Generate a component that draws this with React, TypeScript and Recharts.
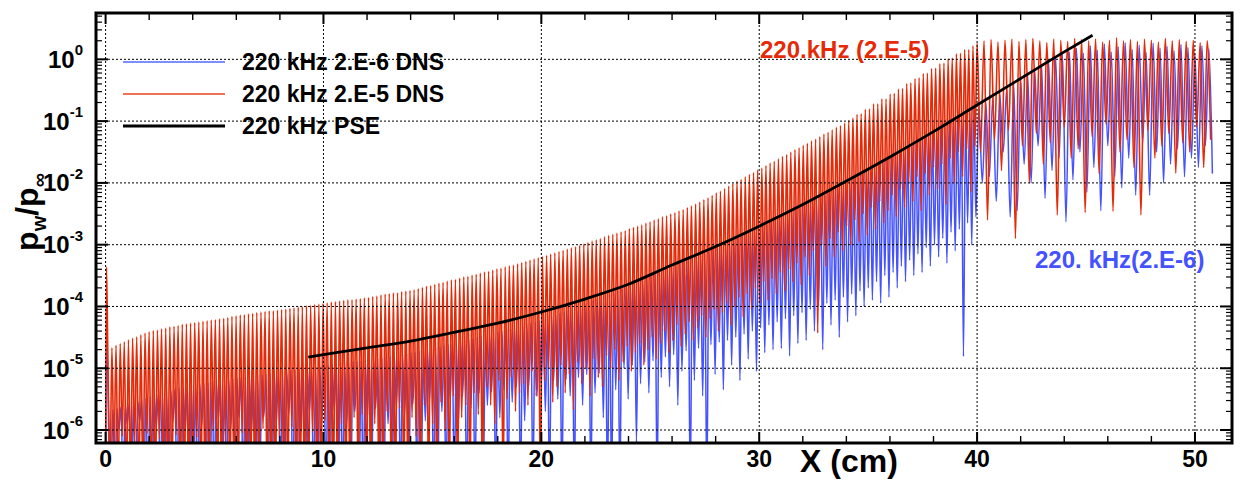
import React from 'react'
import { LineChart, Line, XAxis, YAxis, Legend, ReferenceLine } from 'recharts'

// x in cm, y stored as log10(p_w / p_inf) in hundredths of a decade
const xTicks = [0, 10, 20, 30, 40, 50]
const xMinorTicks = [2, 4, 6, 8, 12, 14, 16, 18, 22, 24, 26, 28, 32, 34, 36, 38, 42, 44, 46, 48]
const yTicks = [-6, -5, -4, -3, -2, -1, 0]
const yDecades = [-7, -6, -5, -4, -3, -2, -1, 0]
const yMinorMultiples = [2, 3, 4, 5, 6, 7, 8, 9]

const seriesNames = ['220 kHz 2.E-6 DNS', '220 kHz 2.E-5 DNS', '220 kHz PSE']

// oscillation grid: ~0.19 cm period up to 40 cm, ~0.32 cm after
const redGrid = { startA: 0.1, stepA: 0.19, startB: 40.0, stepB: 0.32 }
const blueGrid = { startA: 0.14, stepA: 0.19, startB: 40.08, stepB: 0.32 }

// inlet transient near x = 0
const redInletX = [0.0, 0.04]
const redInletY = [-700, -336]
const blueInletX = [0.0, 0.05]
const blueInletY = [-700, -455]

// 2.E-5 DNS (red), peaks and troughs of each wave, 0 - 40 cm
const redPeaksA = [
  -470, -467, -463, -460, -457, -454, -451, -449, -446, -443,
  -441, -439, -438, -436, -435, -433, -432, -431, -429, -428,
  -427, -426, -425, -424, -423, -422, -421, -420, -419, -418,
  -416, -415, -414, -413, -412, -411, -410, -409, -408, -407,
  -407, -406, -405, -404, -403, -402, -401, -400, -399, -398,
  -397, -396, -395, -394, -393, -392, -391, -390, -389, -389,
  -388, -387, -386, -385, -384, -383, -381, -380, -379, -378,
  -378, -376, -375, -374, -373, -371, -369, -367, -366, -364,
  -362, -361, -359, -357, -356, -354, -352, -351, -349, -348,
  -346, -344, -343, -341, -339, -338, -336, -334, -333, -331,
  -329, -327, -325, -323, -321, -319, -317, -315, -313, -311,
  -309, -307, -305, -303, -301, -299, -296, -294, -292, -290,
  -287, -285, -283, -281, -279, -277, -274, -272, -270, -268,
  -265, -263, -260, -258, -255, -253, -250, -248, -245, -243,
  -240, -237, -234, -231, -227, -224, -220, -216, -213, -209,
  -205, -201, -197, -194, -190, -186, -183, -179, -176, -172,
  -168, -165, -161, -157, -154, -150, -146, -143, -139, -136,
  -132, -129, -125, -121, -118, -114, -110, -107, -103, -99,
  -95, -89, -88, -81, -80, -72, -72, -64, -64, -56,
  -55, -48, -47, -39, -38, -31, -30, -23, -22, -15,
  -14, -7, -6, 1, 2, 9, 10, 16, 16, 22,
]
const redTroughsA = [
  -700, -640, -700, -610, -700, -700, -620, -700, -700, -605,
  -700, -700, -615, -700, -700, -700, -608, -700, -700, -700,
  -700, -612, -700, -700, -700, -600, -700, -700, -618, -700,
  -700, -700, -605, -700, -700, -700, -700, -598, -700, -700,
  -700, -610, -700, -700, -595, -700, -700, -700, -700, -602,
  -700, -700, -585, -700, -700, -700, -590, -700, -700, -580,
  -700, -575, -700, -700, -590, -700, -700, -570, -700, -700,
  -565, -700, -700, -580, -610, -700, -560, -700, -590, -700,
  -555, -600, -700, -545, -700, -580, -560, -700, -540, -575,
  -700, -530, -560, -590, -520, -700, -550, -515, -570, -540,
  -525, -560, -505, -545, -700, -520, -500, -555, -530, -495,
  -540, -510, -567, -490, -525, -500, -545, -485, -515, -530,
  -480, -500, -470, -520, -490, -465, -505, -475, -460, -495,
  -470, -450, -485, -460, -440, -475, -455, -430, -465, -445,
  -425, -455, -435, -415, -450, -420, -405, -440, -410, -395,
  -430, -400, -385, -417, -380, -405, -370, -395, -360, -390,
  -355, -380, -345, -375, -340, -360, -330, -365, -320, -350,
  -310, -443, -300, -335, -290, -320, -280, -310, -270, -300,
  -260, -295, -250, -285, -240, -275, -230, -265, -245, -220,
  -255, -210, -240, -200, -230, -190, -245, -185, -220, -175,
  -210, -170, -235, -160, -200, -150, -190, -145, -215, -140,
]
// 40 - 51 cm
const redPeaksB = [
  26, 30, 32, 28, 31, 33, 29, 32, 34, 30,
  27, 33, 31, 29, 34, 32, 30, 33, 28, 31,
  35, 30, 32, 29, 33, 31, 28, 34, 30, 32,
  29, 31, 27, 30,
]
const redTroughsB = [
  -150, -260, -130, -180, -115, -290, -140, -200, -120, -170,
  -135, -252, -110, -160, -145, -248, -125, -185, -105, -246,
  -150, -130, -175, -252, -115, -160, -140, -120, -184, -135,
  -150, -110, -175, -130,
]

// 2.E-6 DNS (blue)
const bluePeaksA = [
  -570, -567, -565, -562, -559, -556, -554, -552, -550, -548,
  -546, -544, -542, -540, -538, -536, -534, -532, -531, -529,
  -528, -526, -525, -524, -523, -522, -521, -520, -519, -518,
  -517, -516, -515, -514, -513, -512, -511, -510, -509, -508,
  -508, -507, -506, -505, -504, -503, -502, -501, -500, -499,
  -498, -497, -496, -495, -494, -493, -492, -491, -490, -489,
  -489, -488, -487, -486, -485, -484, -483, -482, -481, -480,
  -479, -478, -476, -475, -474, -472, -471, -469, -468, -466,
  -465, -463, -462, -460, -458, -457, -455, -453, -452, -450,
  -448, -446, -445, -443, -441, -440, -438, -436, -434, -433,
  -431, -429, -427, -425, -423, -421, -419, -416, -414, -411,
  -409, -406, -404, -401, -398, -395, -393, -390, -388, -385,
  -382, -380, -377, -374, -372, -369, -366, -363, -360, -358,
  -355, -352, -349, -346, -343, -340, -337, -334, -331, -328,
  -326, -323, -320, -317, -314, -311, -308, -305, -302, -298,
  -295, -292, -289, -285, -282, -279, -276, -273, -270, -267,
  -263, -260, -257, -253, -250, -247, -244, -241, -237, -234,
  -230, -227, -223, -220, -216, -212, -209, -205, -202, -198,
  -194, -190, -186, -182, -178, -175, -171, -167, -163, -159,
  -156, -152, -148, -144, -141, -137, -133, -129, -125, -121,
  -118, -114, -110, -106, -102, -98, -94, -90, -86, -81,
]
const blueTroughsA = [
  -700, -700, -600, -700, -590, -700, -700, -585, -700, -700,
  -700, -595, -700, -700, -700, -588, -700, -700, -600, -700,
  -700, -700, -592, -700, -700, -700, -582, -700, -700, -598,
  -700, -580, -700, -700, -605, -700, -700, -578, -700, -700,
  -590, -700, -700, -575, -700, -700, -600, -700, -572, -700,
  -700, -585, -700, -700, -568, -700, -700, -595, -700, -570,
  -700, -700, -580, -700, -565, -700, -700, -590, -700, -562,
  -700, -575, -700, -558, -700, -700, -585, -555, -700, -700,
  -570, -700, -550, -700, -590, -545, -700, -565, -700, -540,
  -700, -560, -538, -700, -580, -535, -700, -555, -530, -700,
  -585, -528, -700, -545, -525, -570, -700, -520, -550, -700,
  -518, -545, -700, -515, -560, -510, -700, -540, -508, -580,
  -700, -700, -535, -700, -500, -550, -495, -620, -525, -490,
  -540, -488, -700, -515, -482, -530, -478, -560, -505, -472,
  -700, -520, -468, -545, -700, -462, -510, -458, -535, -455,
  -495, -450, -520, -445, -485, -440, -505, -435, -475, -430,
  -470, -425, -468, -420, -480, -415, -460, -410, -455, -405,
  -440, -400, -470, -395, -430, -390, -450, -385, -425, -380,
  -415, -375, -400, -370, -390, -360, -395, -350, -385, -345,
  -370, -335, -360, -325, -350, -315, -345, -305, -335, -300,
  -320, -290, -330, -280, -310, -275, -481, -265, -300, -255,
]
const bluePeaksB = [
  -77, -70, -63, -56, -48, -40, -32, -24, -16, -8,
  -2, 4, 8, 12, 18, 10, 22, 15, 25, 12,
  20, 27, 16, 23, 11, 26, 18, 21, 14, 24,
  19, 9, 22, 17,
]
const blueTroughsB = [
  -200, -190, -230, -150, -255, -245, -170, -200, -140, -225,
  -180, -160, -263, -195, -150, -215, -175, -245, -140, -190,
  -208, -160, -220, -135, -220, -150, -200, -170, -145, -190,
  -160, -175, -140, -185,
]

// PSE (black)
const pseX = [9.3, 10, 12, 14, 16, 18, 20, 22, 24, 26, 28, 30, 32, 34, 36, 38, 40, 42, 44, 45.3]
const pseY = [-4.82, -4.78, -4.67, -4.56, -4.42, -4.27, -4.09, -3.88, -3.64, -3.33, -3.03, -2.7, -2.35, -1.97, -1.58, -1.17, -0.74, -0.31, 0.12, 0.39]

const X_DOMAIN: [number, number] = [-0.44, 51.7]
const Y_DOMAIN: [number, number] = [-6.21, 0.75]
// plot box in pixels, follows from the chart margins and axis sizes below
const PLOT = { left: 96, right: 1232, top: 13, bottom: 443 }

const waves = (start: number, step: number, peaks: number[], troughs: number[]) =>
  peaks.flatMap((p, i) => [
    { x: start + i * step, y: p / 100 },
    { x: start + (i + 0.5) * step, y: troughs[i] / 100 },
  ])

const redData = [
  ...redInletX.map((x, i) => ({ x, y: redInletY[i] / 100 })),
  ...waves(redGrid.startA, redGrid.stepA, redPeaksA, redTroughsA),
  ...waves(redGrid.startB, redGrid.stepB, redPeaksB, redTroughsB),
]
const blueData = [
  ...blueInletX.map((x, i) => ({ x, y: blueInletY[i] / 100 })),
  ...waves(blueGrid.startA, blueGrid.stepA, bluePeaksA, blueTroughsA),
  ...waves(blueGrid.startB, blueGrid.stepB, bluePeaksB, blueTroughsB),
]
const pseData = pseX.map((x, i) => ({ x, y: pseY[i] }))

const yMinorTicks = yDecades
  .flatMap((d) => yMinorMultiples.map((k) => d + Math.log10(k)))
  .filter((v) => v > Y_DOMAIN[0] && v < Y_DOMAIN[1])

// axis value -> pixel, same linear mapping as the chart axes (for the frame ticks)
const px = (v: number) => PLOT.left + ((v - X_DOMAIN[0]) / (X_DOMAIN[1] - X_DOMAIN[0])) * (PLOT.right - PLOT.left)
const py = (v: number) => PLOT.bottom - ((v - Y_DOMAIN[0]) / (Y_DOMAIN[1] - Y_DOMAIN[0])) * (PLOT.bottom - PLOT.top)

const FONT = '"Liberation Sans", Arial, sans-serif'
const BLUE = '#4452ff'
const RED = '#e62a08'
const legendStyles = [
  { color: '#7f8eff', width: 2 },
  { color: '#e8431f', width: 1.5 },
  { color: '#000000', width: 3 },
]

const YTick = (props: any) => {
  const { x, y, payload } = props
  return (
    <text x={x} y={y} textAnchor="end" dominantBaseline="central" fontSize={24} fontWeight="bold" fill="#000">
      10
      <tspan dy={-10} fontSize={15}>
        {payload.value}
      </tspan>
    </text>
  )
}

const LegendBox = () => (
  <div style={{ fontFamily: FONT, fontWeight: 'bold', fontSize: 23, color: '#000' }}>
    {seriesNames.map((name, i) => (
      <div key={name} style={{ height: 32, display: 'flex', alignItems: 'center' }}>
        <svg width={115} height={32} style={{ display: 'block' }}>
          <line x1={13} x2={115} y1={16} y2={16} stroke={legendStyles[i].color} strokeWidth={legendStyles[i].width} />
        </svg>
        <span style={{ marginLeft: 17, whiteSpace: 'nowrap' }}>{name}</span>
      </div>
    ))}
  </div>
)

// frame with inward ticks on all four sides, drawn over the plot
const Frame = () => {
  const xt = [
    ...xTicks.map((v) => ({ v, len: 11, w: 2 })),
    ...xMinorTicks.map((v) => ({ v, len: 7, w: 1.4 })),
  ]
  const yt = [
    ...yTicks.map((v) => ({ v, len: 12, w: 2 })),
    ...yMinorTicks.map((v) => ({ v, len: 6, w: 1.2 })),
  ]
  return (
    <svg width={1242} height={487} style={{ position: 'absolute', left: 0, top: 0, pointerEvents: 'none' }}>
      {xt.map(({ v, len, w }) => (
        <g key={'x' + v} stroke="#000" strokeWidth={w}>
          <line x1={px(v)} x2={px(v)} y1={PLOT.bottom} y2={PLOT.bottom - len} />
          <line x1={px(v)} x2={px(v)} y1={PLOT.top} y2={PLOT.top + len} />
        </g>
      ))}
      {yt.map(({ v, len, w }) => (
        <g key={'y' + v} stroke="#000" strokeWidth={w}>
          <line x1={PLOT.left} x2={PLOT.left + len} y1={py(v)} y2={py(v)} />
          <line x1={PLOT.right} x2={PLOT.right - len} y1={py(v)} y2={py(v)} />
        </g>
      ))}
      <rect
        x={PLOT.left}
        y={PLOT.top}
        width={PLOT.right - PLOT.left}
        height={PLOT.bottom - PLOT.top}
        fill="none"
        stroke="#000"
        strokeWidth={3}
      />
    </svg>
  )
}

const gridLine = { stroke: '#000', strokeWidth: 1, strokeDasharray: '2 2' }

export default function App() {
  const ids = { xAxisId: 'main', yAxisId: 'main' }
  return (
    <div
      style={{
        position: 'absolute',
        left: 0,
        top: 0,
        width: 1242,
        height: 487,
        background: '#fff',
        fontFamily: FONT,
      }}
    >
      <LineChart width={1242} height={487} margin={{ top: 13, right: 10, bottom: 10, left: 10 }}>
        <XAxis
          xAxisId="main"
          type="number"
          dataKey="x"
          domain={X_DOMAIN}
          allowDataOverflow
          ticks={xTicks}
          interval={0}
          height={34}
          tickLine={false}
          tickSize={0}
          tickMargin={8}
          axisLine={false}
          tick={{ fontSize: 23, fontWeight: 'bold', fill: '#000' }}
        />
        <YAxis
          yAxisId="main"
          type="number"
          domain={Y_DOMAIN}
          allowDataOverflow
          ticks={yTicks}
          interval={0}
          width={86}
          tickLine={false}
          tickSize={0}
          tickMargin={13}
          axisLine={false}
          tick={(p: any) => <YTick {...p} />}
        />
        <Legend
          layout="vertical"
          align="center"
          verticalAlign="middle"
          wrapperStyle={{ left: 110, top: 46, width: 440 }}
          content={() => <LegendBox />}
        />
        <Line
          {...ids}
          data={blueData}
          dataKey="y"
          name={seriesNames[0]}
          type="monotone"
          stroke={BLUE}
          strokeWidth={1.5}
          dot={false}
          isAnimationActive={false}
        />
        <Line
          {...ids}
          data={redData}
          dataKey="y"
          name={seriesNames[1]}
          type="monotone"
          stroke={RED}
          strokeWidth={1.6}
          dot={false}
          isAnimationActive={false}
        />
        <Line
          {...ids}
          data={pseData}
          dataKey="y"
          name={seriesNames[2]}
          type="monotone"
          stroke="#000"
          strokeWidth={2.8}
          dot={false}
          isAnimationActive={false}
        />
        {xTicks.map((v) => (
          <ReferenceLine key={'gx' + v} {...ids} x={v} {...gridLine} />
        ))}
        {yTicks.map((v) => (
          <ReferenceLine key={'gy' + v} {...ids} y={v} {...gridLine} />
        ))}
      </LineChart>

      <Frame />

      <div
        style={{
          position: 'absolute',
          left: 30,
          top: 212,
          transform: 'translate(-50%, -50%) rotate(-90deg)',
          fontSize: 32,
          fontWeight: 'bold',
          whiteSpace: 'nowrap',
          lineHeight: 1,
        }}
      >
        p<sub style={{ fontSize: 20 }}>w</sub>/p<sub style={{ fontSize: 20 }}>∞</sub>
      </div>
      <div style={{ position: 'absolute', left: 800, top: 445, fontSize: 32, fontWeight: 'bold', lineHeight: 1 }}>
        X (cm)
      </div>
      <div style={{ position: 'absolute', left: 760, top: 38, fontSize: 24, fontWeight: 'bold', color: RED, lineHeight: 1 }}>
        220.kHz (2.E-5)
      </div>
      <div style={{ position: 'absolute', left: 1035, top: 248, fontSize: 24, fontWeight: 'bold', color: BLUE, lineHeight: 1 }}>
        220. kHz(2.E-6)
      </div>
    </div>
  )
}
